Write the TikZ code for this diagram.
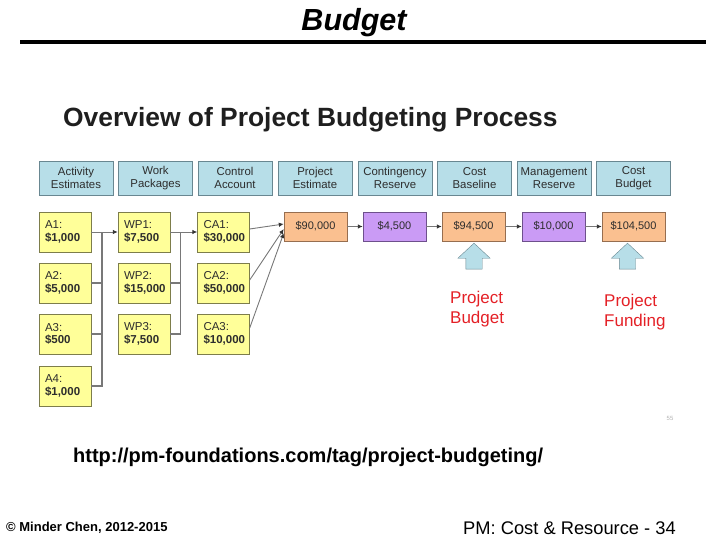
\documentclass[tikz,border=0pt]{standalone}
\usepackage{fontspec}
\setmainfont{Liberation Sans}
\usetikzlibrary{arrows.meta,shapes.arrows,calc}

\definecolor{hdrblue}{RGB}{183,222,232}
\definecolor{hdrline}{RGB}{105,135,145}
\definecolor{noteyel}{RGB}{255,255,153}
\definecolor{yelline}{RGB}{125,125,75}
\definecolor{estorange}{RGB}{250,192,144}
\definecolor{orgline}{RGB}{150,110,80}
\definecolor{respurple}{RGB}{202,155,245}
\definecolor{purline}{RGB}{110,80,140}
\definecolor{lblred}{RGB}{228,32,38}
\definecolor{txtgray}{RGB}{45,45,45}
\definecolor{wiregray}{RGB}{120,120,120}

\begin{document}
\begin{tikzpicture}[x=1pt,y=-1pt,
	hdr/.style={draw=hdrline, fill=hdrblue, minimum width=74pt, minimum height=34pt, inner sep=1pt, align=center, text=txtgray, font=\fontsize{11.4}{12.7}\selectfont},
	yel/.style={draw=yelline, fill=noteyel, text width=40pt, inner xsep=6pt, inner ysep=0pt, minimum height=40pt, align=left, text=txtgray, font=\fontsize{11.5}{12.7}\selectfont},
	amount/.style={draw=orgline, fill=estorange, minimum width=63pt, minimum height=29pt, inner sep=0pt, text=txtgray, font=\fontsize{11}{13}\selectfont},
	reserve/.style={amount, draw=purline, fill=respurple},
	uparr/.style={single arrow, draw=hdrline, fill=hdrblue, rotate=90, minimum height=26pt, minimum width=32pt, single arrow head extend=8pt, single arrow tip angle=94, inner xsep=0pt, inner ysep=8pt},
	redlbl/.style={anchor=north west, align=left, inner sep=0pt, text=lblred, font=\fontsize{17}{20}\selectfont},
	conn/.style={draw=wiregray, line width=0.9pt, -{Latex[length=5pt,width=4.5pt,color=black!80]}},
	bus/.style={draw=wiregray, line width=1.4pt}]
	\useasboundingbox (0,0) rectangle (720,540);
	% heading
	\node[anchor=base, font=\fontsize{30.5}{35}\selectfont\bfseries\itshape] (title) at (354,31) {Budget};
	\draw[line width=4pt] (20,42) -- (706,42);
	\node[anchor=base west, inner sep=0pt, text=black!88, font=\fontsize{26.4}{30}\selectfont\bfseries] (overview) at (63,127) {Overview of Project Budgeting Process};
	% column heads
	\node[hdr] (hact) at (76,178) {Activity\\Estimates};
	\node[hdr] (hwp) at (155.5,178) {Work\\Packages};
	\node[hdr] (hca) at (235,178) {Control\\Account};
	\node[hdr] (hpe) at (315,178) {Project\\Estimate};
	\node[hdr] (hcr) at (395,178) {Contingency\\Reserve};
	\node[hdr] (hcb) at (474.5,178) {Cost\\Baseline};
	\node[hdr] (hmr) at (554,178) {Management\\Reserve};
	\node[hdr] (hbud) at (633.5,178) {Cost\\Budget};
	% activities, work packages, control accounts
	\node[yel] (a1) at (65,232) {A1:\\\textbf{\$1,000}};
	\node[yel] (a2) at (65,283) {A2:\\\textbf{\$5,000}};
	\node[yel] (a3) at (65,334) {A3:\\\textbf{\$500}};
	\node[yel] (a4) at (65,386) {A4:\\\textbf{\$1,000}};
	\node[yel] (wp1) at (144,232) {WP1:\\\textbf{\$7,500}};
	\node[yel] (wp2) at (144,283) {WP2:\\\textbf{\$15,000}};
	\node[yel] (wp3) at (144,334) {WP3:\\\textbf{\$7,500}};
	\node[yel] (ca1) at (223.5,232) {CA1:\\\textbf{\$30,000}};
	\node[yel] (ca2) at (223.5,283) {CA2:\\\textbf{\$50,000}};
	\node[yel] (ca3) at (223.5,334) {CA3:\\\textbf{\$10,000}};
	% amounts
	\node[amount] (pe) at (315.5,226.5) {\$90,000};
	\node[reserve] (cr) at (394.5,226.5) {\$4,500};
	\node[amount] (cb) at (473.5,226.5) {\$94,500};
	\node[reserve] (mr) at (553.5,226.5) {\$10,000};
	\node[amount] (bud) at (633.5,226.5) {\$104,500};
	% roll-up
	\coordinate (busa) at ($(a1.east)!0.4!(wp1.west)$);
	\coordinate (buswp) at ($(wp1.east)!0.39!(ca1.west)$);
	\draw[bus] (a4.east) -| (busa);
	\draw[bus] (a2.east) -- (a2.east -| busa);
	\draw[bus] (a3.east) -- (a3.east -| busa);
	\draw[bus] (wp3.east) -| (buswp);
	\draw[bus] (wp2.east) -- (wp2.east -| buswp);
	\draw[conn] (a1) -- (wp1);
	\draw[conn] (wp1) -- (ca1);
	\draw[conn] ([yshift=3pt]ca1.east) -- ([yshift=2.5pt]pe.west);
	\draw[conn] ([yshift=3pt]ca2.east) -- ([yshift=-2.5pt]pe.west);
	\draw[conn] ([yshift=6pt]ca3.east) -- ([yshift=-6.5pt]pe.west);
	\draw[conn] (pe) -- (cr);
	\draw[conn] (cr) -- (cb);
	\draw[conn] (cb) -- (mr);
	\draw[conn] (mr) -- (bud);
	% callouts
	\node[uparr] (upcb) at (474,260) {};
	\node[uparr] (upbud) at (627.5,260) {};
	\node[redlbl] (lblcb) at (450,291) {Project\\Budget};
	\node[redlbl] (lblbud) at (604,294) {Project\\Funding};
	\node[text=black!30, font=\fontsize{6}{7}\selectfont] (pgno) at (670,418) {55};
	% source and footer
	\node[anchor=base west, inner sep=0pt, font=\fontsize{20}{23}\selectfont\bfseries] (src) at (73,462) {http://pm-foundations.com/tag/project-budgeting/};
	\node[anchor=base west, inner sep=0pt, font=\fontsize{13}{15}\selectfont\bfseries] (copy) at (6,531) {© Minder Chen, 2012-2015};
	\node[anchor=base west, inner sep=0pt, font=\fontsize{18.3}{21}\selectfont] (slide) at (463,534) {PM: Cost \& Resource - 34};
\end{tikzpicture}
\end{document}
